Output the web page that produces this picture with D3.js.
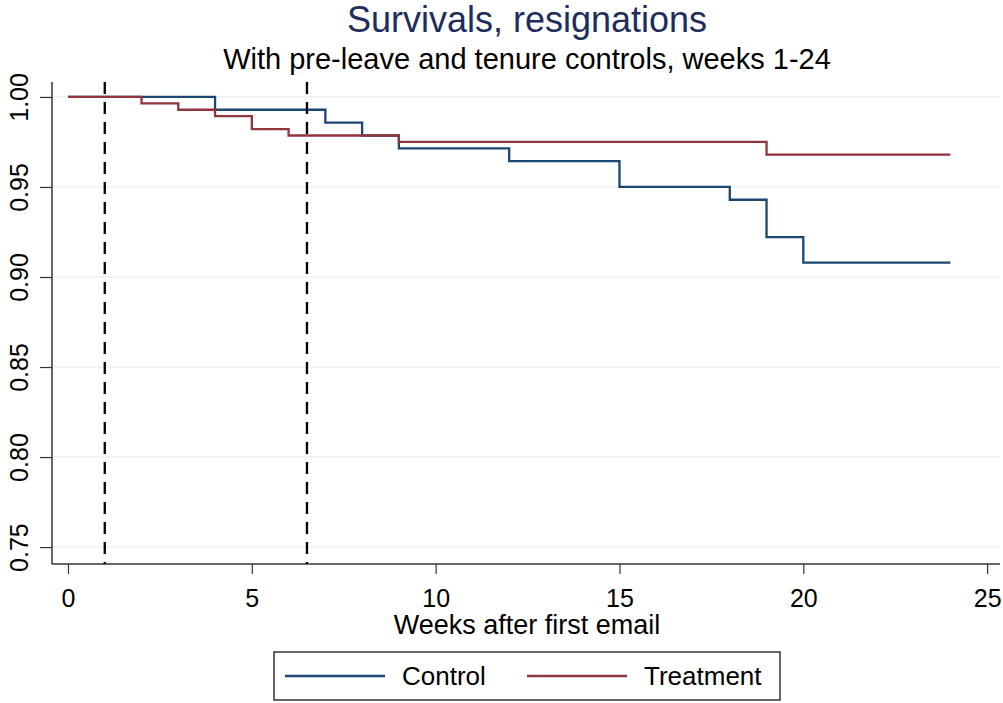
<!DOCTYPE html>
<html>
<head>
<meta charset="utf-8">
<script src="https://cdn.jsdelivr.net/npm/d3@7"></script>
<style>
  body { margin: 0; background: #fff; }
  text { font-family: "Liberation Sans", Arial, sans-serif; }
</style>
</head>
<body>
<div id="canvas"></div>
<script>
// step curves: week where the level starts, survival level
var controlWeeks = [0, 4, 7, 8, 9, 12, 15, 18, 19, 20, 24];
var controlSurv = [1.0, 0.9929, 0.9857, 0.9786, 0.9714, 0.9643, 0.9500, 0.9429, 0.9222, 0.9080, 0.9080];
var treatWeeks = [0, 2, 3, 4, 5, 6, 9, 19, 24];
var treatSurv = [1.0, 0.9964, 0.9929, 0.9893, 0.9821, 0.9786, 0.9750, 0.9680, 0.9680];
var markerWeeks = [1, 6.5];
var xTicks = [0, 5, 10, 15, 20, 25];
var yTicks = [0.75, 0.80, 0.85, 0.90, 0.95, 1.00];
var seriesNames = ['Control', 'Treatment'];

var svgWidth = 1003;
var svgHeight = 703;
var controlColor = '#1a476f';
var treatColor = '#90353b';

var svg = d3.select('#canvas')
    .append('svg')
    .attr('width', svgWidth)
    .attr('height', svgHeight);

var plotLeft = 52, plotRight = 1000, plotTop = 82, plotBottom = 564;

var x = d3.scaleLinear().domain([-0.435, 25.35]).range([plotLeft, plotRight]);
var y = d3.scaleLinear().domain([0.7406, 1.0083]).range([plotBottom, plotTop]);

// gridlines
svg.selectAll('.grid')
    .data(yTicks)
    .enter().append('line')
    .attr('x1', plotLeft)
    .attr('x2', plotRight)
    .attr('y1', function(d) { return y(d); })
    .attr('y2', function(d) { return y(d); })
    .attr('stroke', '#eaf2f3')
    .attr('stroke-width', 1.5);

// titles
svg.append('text')
    .attr('x', 527)
    .attr('y', 32)
    .text('Survivals, resignations')
    .attr('fill', '#1f2d5c')
    .attr('font-size', '36px')
    .attr('text-anchor', 'middle');

svg.append('text')
    .attr('x', 527)
    .attr('y', 69)
    .text('With pre-leave and tenure controls, weeks 1-24')
    .attr('fill', 'black')
    .attr('font-size', '29px')
    .attr('text-anchor', 'middle');

// axes
var xAxis = d3.axisBottom(x).tickValues(xTicks).tickSize(10).tickPadding(10)
    .tickFormat(d3.format('d'));
var gx = svg.append('g')
    .attr('transform', 'translate(0,' + plotBottom + ')')
    .call(xAxis);
gx.select('.domain').attr('d', 'M' + plotLeft + ',0H' + plotRight).attr('stroke', '#333').attr('stroke-width', 1.5);
gx.selectAll('.tick line').attr('stroke', '#333').attr('stroke-width', 1.2);
gx.selectAll('.tick text')
    .attr('font-size', '25px')
    .attr('fill', 'black')
    .attr('font-family', '"Liberation Sans", Arial, sans-serif')
    .attr('dy', null)
    .attr('y', 43);

var yAxis = d3.axisLeft(y).tickValues(yTicks).tickSize(12).tickFormat(d3.format('.2f'));
var gy = svg.append('g')
    .attr('transform', 'translate(' + plotLeft + ',0)')
    .call(yAxis);
gy.select('.domain').attr('d', 'M0,' + plotTop + 'V' + plotBottom).attr('stroke', '#333').attr('stroke-width', 1.5);
gy.selectAll('.tick line').attr('stroke', '#333').attr('stroke-width', 1.2);
gy.selectAll('.tick text')
    .attr('font-size', '25px')
    .attr('fill', 'black')
    .attr('font-family', '"Liberation Sans", Arial, sans-serif')
    .attr('text-anchor', 'middle')
    .attr('dy', null)
    .attr('x', null)
    .attr('y', 0)
    .attr('transform', 'translate(-24,0) rotate(-90)');

svg.append('text')
    .attr('x', 527)
    .attr('y', 634)
    .text('Weeks after first email')
    .attr('fill', 'black')
    .attr('font-size', '27px')
    .attr('text-anchor', 'middle');

// step lines
var line = d3.line()
    .x(function(d) { return x(d[0]); })
    .y(function(d) { return y(d[1]); })
    .curve(d3.curveStepAfter);

svg.append('path')
    .attr('d', line(d3.zip(controlWeeks, controlSurv)))
    .attr('fill', 'none')
    .attr('stroke', controlColor)
    .attr('stroke-width', 2.3);

svg.append('path')
    .attr('d', line(d3.zip(treatWeeks, treatSurv)))
    .attr('fill', 'none')
    .attr('stroke', treatColor)
    .attr('stroke-width', 2.3);

// dashed markers
svg.selectAll('.marker')
    .data(markerWeeks)
    .enter().append('line')
    .attr('x1', function(d) { return x(d); })
    .attr('x2', function(d) { return x(d); })
    .attr('y1', plotTop)
    .attr('y2', plotBottom)
    .attr('stroke', 'black')
    .attr('stroke-width', 2.3)
    .attr('stroke-dasharray', '12,8');

// legend
svg.append('rect')
    .attr('x', 274)
    .attr('y', 652)
    .attr('width', 506)
    .attr('height', 48)
    .attr('fill', 'white')
    .attr('stroke', '#333')
    .attr('stroke-width', 1.5);

var legendColors = [controlColor, treatColor];
var legendX = [285, 527];
seriesNames.forEach(function(name, i) {
    svg.append('line')
        .attr('x1', legendX[i])
        .attr('x2', legendX[i] + 100)
        .attr('y1', 676)
        .attr('y2', 676)
        .attr('stroke', legendColors[i])
        .attr('stroke-width', 2.3);
    svg.append('text')
        .attr('x', legendX[i] + 117)
        .attr('y', 685)
        .text(name)
        .attr('fill', 'black')
        .attr('font-size', '26px');
});
</script>
</body>
</html>
